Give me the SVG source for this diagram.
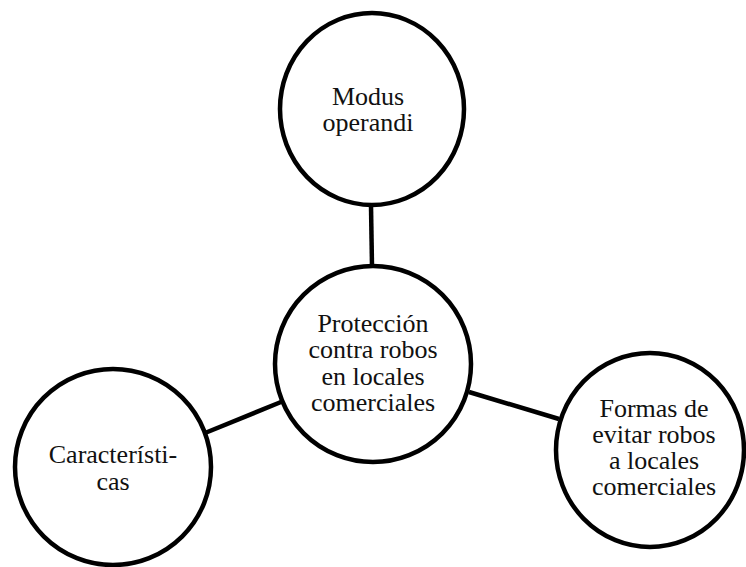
<svg xmlns="http://www.w3.org/2000/svg" width="746" height="567" viewBox="0 0 746 567">
<style>
.n{fill:#fff;stroke:#000;stroke-width:4.5}
.c{stroke:#000;stroke-width:4.5;fill:none}
text{font-family:"Liberation Serif","Times New Roman",serif;font-size:26px;fill:#111;text-anchor:middle}
</style>
<rect width="746" height="567" fill="#fff"/>
<g id="connectors">
<line class="c" x1="371" y1="206" x2="372" y2="266"/>
<line class="c" x1="205" y1="433" x2="281" y2="402"/>
<line class="c" x1="469" y1="392" x2="559" y2="419"/>
</g>
<g id="modus">
<ellipse class="n" cx="372" cy="109" rx="92" ry="96"/>
<text x="368" y="105">Modus</text>
<text x="368" y="131">operandi</text>
</g>
<g id="proteccion">
<circle class="n" cx="373" cy="364" r="98"/>
<text x="373" y="332">Protección</text>
<text x="373" y="358">contra robos</text>
<text x="373" y="385">en locales</text>
<text x="373" y="411">comerciales</text>
</g>
<g id="caracteristicas">
<circle class="n" cx="113" cy="467" r="98"/>
<text x="113" y="463">Característi-</text>
<text x="113" y="490">cas</text>
</g>
<g id="formas">
<ellipse class="n" cx="650" cy="450" rx="94" ry="97"/>
<text x="654" y="417">Formas de</text>
<text x="654" y="443">evitar robos</text>
<text x="654" y="469">a locales</text>
<text x="654" y="495">comerciales</text>
</g>
</svg>
